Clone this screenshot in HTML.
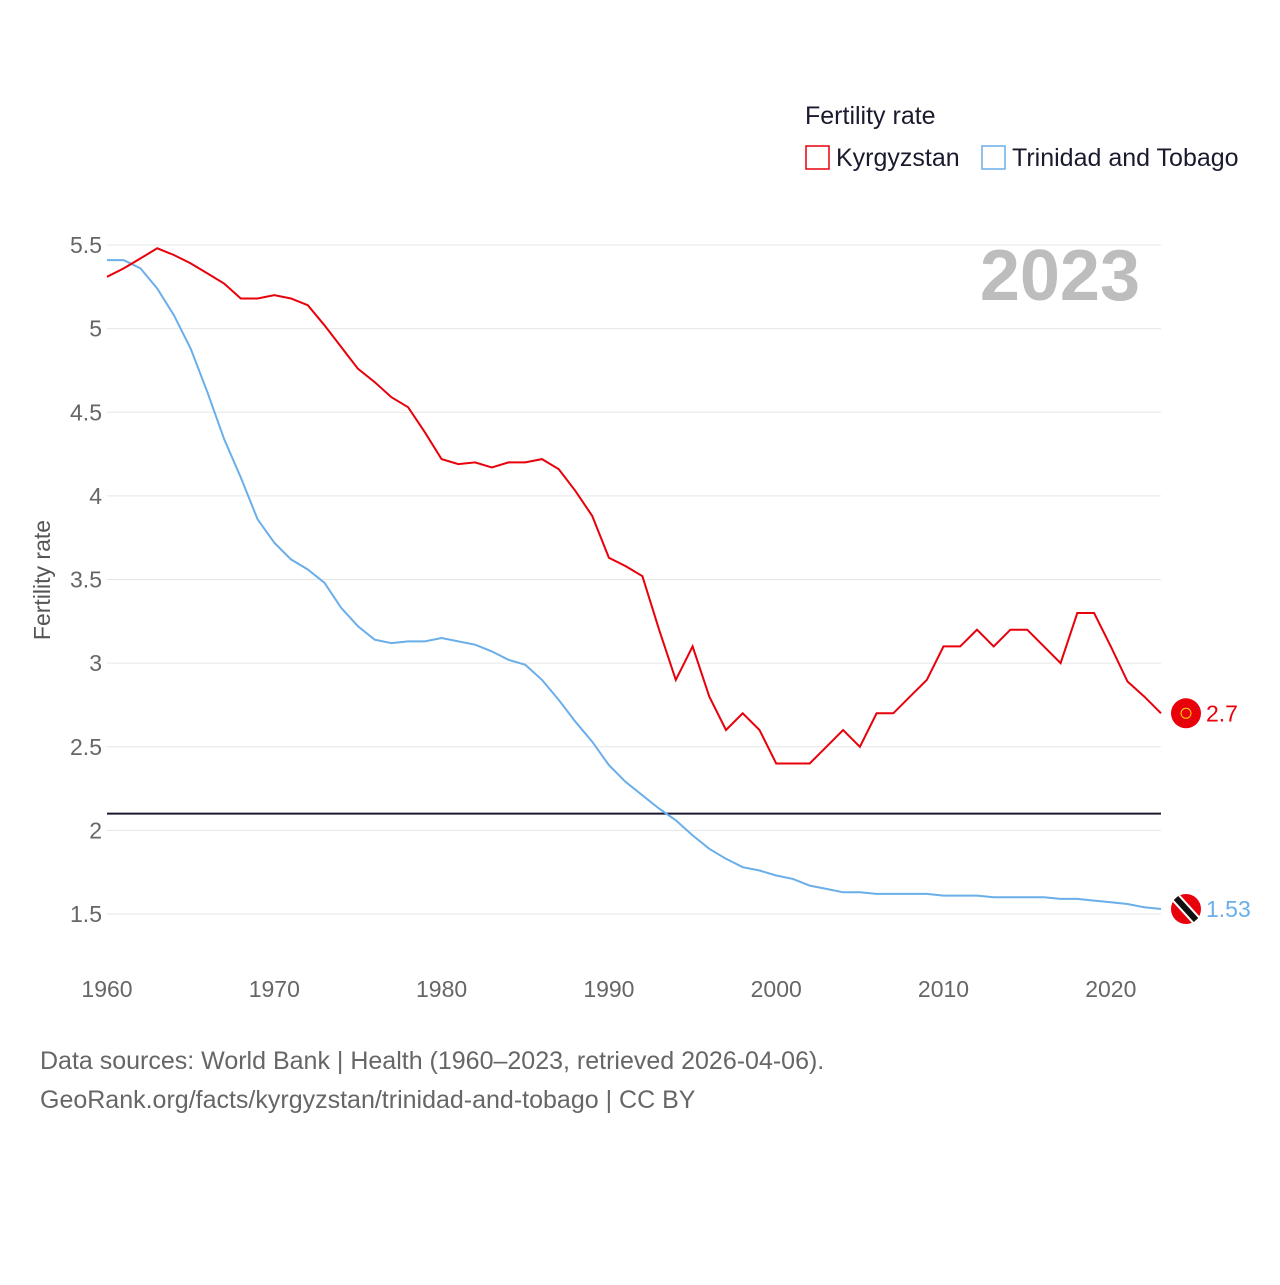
<!DOCTYPE html>
<html><head><meta charset="utf-8">
<style>
body{margin:0;background:#fff;font-family:"Liberation Sans",sans-serif;}
svg text{font-family:"Liberation Sans",sans-serif;}
</style></head>
<body>
<svg id="chart" width="1280" height="1280" viewBox="0 0 1280 1280" xmlns="http://www.w3.org/2000/svg">
<rect width="1280" height="1280" fill="#fff"/>
<g id="grid"></g>
<g id="yticks"></g>
<g id="xticks"></g>
<text transform="translate(50,580) rotate(-90)" text-anchor="middle" font-size="23" fill="#555">Fertility rate</text>
<text x="1140" y="300" text-anchor="end" font-size="72" font-weight="bold" fill="#bdbdbd">2023</text>
<text x="805" y="124" font-size="25" fill="#1a1a2e">Fertility rate</text>
<rect x="806" y="146" width="23" height="23" fill="none" stroke="#e8000b" stroke-width="1.5"/>
<text x="836" y="166" font-size="25" fill="#1a1a2e">Kyrgyzstan</text>
<rect x="982" y="146" width="23" height="23" fill="none" stroke="#6aaeea" stroke-width="1.5"/>
<text x="1012" y="166" font-size="25" fill="#1a1a2e">Trinidad and Tobago</text>
<g id="series"></g>
<text x="40" y="1069" font-size="25" fill="#666">Data sources: World Bank | Health (1960–2023, retrieved 2026-04-06).</text>
<text x="40" y="1108" font-size="25" fill="#666">GeoRank.org/facts/kyrgyzstan/trinidad-and-tobago | CC BY</text>
</svg>
<script>
const years = [];
for (let y = 1960; y <= 2023; y++) years.push(y);
const kyrgyzstan = [5.31,5.36,5.42,5.48,5.44,5.39,5.33,5.27,5.18,5.18,5.2,5.18,5.14,5.02,4.89,4.76,4.68,4.59,4.53,4.38,4.22,4.19,4.2,4.17,4.2,4.2,4.22,4.16,4.03,3.88,3.63,3.58,3.52,3.2,2.9,3.1,2.8,2.6,2.7,2.6,2.4,2.4,2.4,2.5,2.6,2.5,2.7,2.7,2.8,2.9,3.1,3.1,3.2,3.1,3.2,3.2,3.1,3.0,3.3,3.3,3.1,2.89,2.8,2.7];
const trinidad = [5.41,5.41,5.36,5.24,5.08,4.88,4.62,4.34,4.11,3.86,3.72,3.62,3.56,3.48,3.33,3.22,3.14,3.12,3.13,3.13,3.15,3.13,3.11,3.07,3.02,2.99,2.9,2.78,2.65,2.53,2.39,2.29,2.21,2.13,2.06,1.97,1.89,1.83,1.78,1.76,1.73,1.71,1.67,1.65,1.63,1.63,1.62,1.62,1.62,1.62,1.61,1.61,1.61,1.6,1.6,1.6,1.6,1.59,1.59,1.58,1.57,1.56,1.54,1.53];
const yTicks = [1.5,2,2.5,3,3.5,4,4.5,5,5.5];
const xTicks = [1960,1970,1980,1990,2000,2010,2020];
const replacementRate = 2.1;
const kyrLabel = "2.7";
const ttoLabel = "1.53";

const NS = "http://www.w3.org/2000/svg";
const X0 = 107, X1 = 1161, Y0 = 914, Y1 = 245;
function xs(v){ return X0 + (v - 1960) / (2023 - 1960) * (X1 - X0); }
function ys(v){ return Y0 - (v - 1.5) / (5.5 - 1.5) * (Y0 - Y1); }
function mk(tag, attrs, parent){ const e = document.createElementNS(NS, tag); for (const k in attrs) e.setAttribute(k, attrs[k]); parent.appendChild(e); return e; }

const grid = document.getElementById('grid');
const yt = document.getElementById('yticks');
yTicks.forEach(t => {
  const l = mk('line', {x1:X0, x2:X1, y1:ys(t), y2:ys(t), stroke:'#e6e6e6', 'stroke-width':1}, grid);
  
  
  const tx = mk('text', {x:102, y:ys(t)+8, 'text-anchor':'end', 'font-size':23, fill:'#666'}, yt);
  tx.textContent = String(t);
  
  
});
const xt = document.getElementById('xticks');
xTicks.forEach(t => {
  const tx = mk('text', {x:xs(t), y:997, 'text-anchor':'middle', 'font-size':23, fill:'#666'}, xt);
  tx.textContent = String(t);
  
  
});

const s = document.getElementById('series');
const ref = mk('line', {x1:X0, x2:X1, y1:ys(replacementRate), y2:ys(replacementRate), stroke:'#1a1a2e', 'stroke-width':2}, s);



function pts(arr){ return arr.map((v,i) => xs(years[i]).toFixed(1) + ',' + ys(v).toFixed(1)).join(' '); }
const lt = mk('polyline', {points:pts(trinidad), fill:'none', stroke:'#6aaeea', 'stroke-width':2}, s);


const lk = mk('polyline', {points:pts(kyrgyzstan), fill:'none', stroke:'#e8000b', 'stroke-width':2}, s);



const kLast = kyrgyzstan[kyrgyzstan.length-1], tLast = trinidad[trinidad.length-1];
const ex = xs(2023) + 25;
const fk = mk('circle', {cx:ex, cy:ys(kLast), r:15, fill:'#e8000b'}, s);


const fks = mk('circle', {cx:ex, cy:ys(kLast), r:5, fill:'none', stroke:'#ffdd00', 'stroke-width':1}, s);


const tk = mk('text', {x:ex+20, y:ys(kLast)+8, 'font-size':23, fill:'#e8000b'}, s);
tk.textContent = kyrLabel;



const cy = ys(tLast);
const ft = mk('circle', {cx:ex, cy:cy, r:15, fill:'#e8000b'}, s);


const fw = mk('line', {x1:ex-10, y1:cy-11, x2:ex+10, y2:cy+11, stroke:'#fff', 'stroke-width':10}, s);


const fb = mk('line', {x1:ex-10, y1:cy-11, x2:ex+10, y2:cy+11, stroke:'#111', 'stroke-width':6}, s);


const tt = mk('text', {x:ex+20, y:cy+8, 'font-size':23, fill:'#6aaeea'}, s);
tt.textContent = ttoLabel;


</script>
</body></html>
